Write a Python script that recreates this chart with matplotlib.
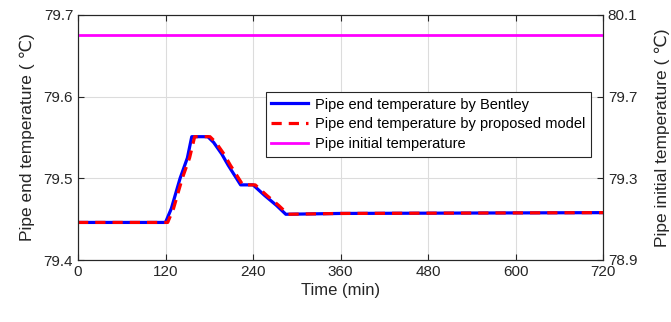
import matplotlib
matplotlib.use("Agg")
import matplotlib.pyplot as plt

plt.rcParams['font.family'] = ['Liberation Sans', 'DejaVu Sans']

# Data
t_bentley = [0, 120, 128, 140, 150, 156, 178, 186, 197, 206, 223, 240, 256, 272, 285, 360, 720]
T_bentley = [79.446, 79.446, 79.463, 79.500, 79.525, 79.551, 79.551, 79.544, 79.530, 79.516,
             79.492, 79.492, 79.479, 79.467, 79.456, 79.457, 79.458]
t_model = [0, 123, 131, 143, 153, 160, 181, 189, 200, 209, 226, 243, 259, 275, 288, 360, 720]
T_model = [79.446, 79.446, 79.463, 79.500, 79.525, 79.551, 79.551, 79.544, 79.530, 79.516,
           79.492, 79.492, 79.479, 79.467, 79.456, 79.457, 79.458]
t_init = [0, 720]
T_init = [80.0, 80.0]

xticks = [0, 120, 240, 360, 480, 600, 720]
yticks_left = [79.4, 79.5, 79.6, 79.7]
yticks_right = [78.9, 79.3, 79.7, 80.1]

fig = plt.figure(figsize=(6.71, 3.22), dpi=100)
ax = fig.add_axes([78/671, 1-260/322, 525/671, 245/322])
ax2 = ax.twinx()

l1, = ax.plot(t_bentley, T_bentley, color='#0000ff', lw=2.3, label='Pipe end temperature by Bentley')
l2, = ax.plot(t_model, T_model, color='#ff0000', lw=2.3, ls=(0, (3.2, 2.2)), label='Pipe end temperature by proposed model')
l3, = ax2.plot(t_init, T_init, color='#ff00ff', lw=2.0, label='Pipe initial temperature')

ax.set_xlim(0, 720)
ax.set_ylim(79.4, 79.7)
ax2.set_ylim(78.9, 80.1)
ax.set_xticks(xticks)
ax.set_yticks(yticks_left)
ax.set_yticklabels([f"{v:.1f}" for v in yticks_left])
ax2.set_yticks(yticks_right)
ax2.set_yticklabels([f"{v:.1f}" for v in yticks_right])

ax.grid(True, color='#dcdcdc', lw=0.8)
ax.set_axisbelow(True)
ax.tick_params(axis='both', direction='in', labelsize=11, length=4, top=True, color='#262626', labelcolor='#262626')
ax.tick_params(axis='y', right=False)
ax2.tick_params(axis='y', direction='in', labelsize=11, length=4, color='#262626', labelcolor='#262626')
for a in (ax, ax2):
    for s in a.spines.values():
        s.set_color('#262626')
        s.set_linewidth(0.8)

ax.set_xlabel('Time (min)', fontsize=12, color='#262626', labelpad=3)
ax.set_ylabel('Pipe end temperature ( ℃)', fontsize=12.5, color='#262626', labelpad=6)
ax2.set_ylabel('Pipe initial temperature ( ℃)', fontsize=12.5, color='#262626', labelpad=12)

leg = ax2.legend(handles=[l1, l2, l3], loc='upper right', bbox_to_anchor=(0.978, 0.687),
                 fontsize=10.5, frameon=True, fancybox=False, edgecolor='#262626',
                 framealpha=1, handlelength=2.5, borderpad=0.4, labelspacing=0.4,
                 handletextpad=0.5, borderaxespad=0)
leg.get_frame().set_linewidth(0.8)

fig.savefig('out.png', dpi=100)
